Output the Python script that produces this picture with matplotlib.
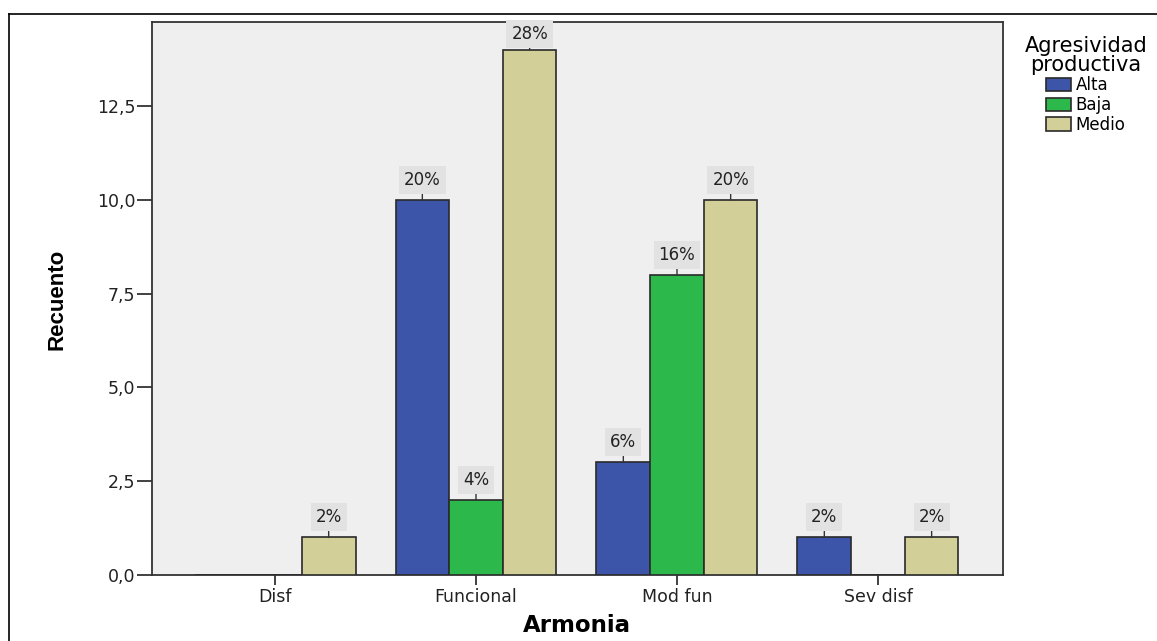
import matplotlib
matplotlib.use("Agg")
import matplotlib.pyplot as plt
from matplotlib.lines import Line2D
import numpy as np

plt.rcParams["font.family"] = ["DejaVu Sans"]

categories = ["Disf", "Funcional", "Mod fun", "Sev disf"]
series = ["Alta", "Baja", "Medio"]
alta = [0, 10, 3, 1]
baja = [0, 2, 8, 0]
medio = [1, 14, 10, 1]
pct_labels = {
    "Alta": ["", "20%", "6%", "2%"],
    "Baja": ["", "4%", "16%", ""],
    "Medio": ["2%", "28%", "20%", "2%"],
}
yticks = [0, 2.5, 5, 7.5, 10, 12.5]
ytick_labels = ["0,0", "2,5", "5,0", "7,5", "10,0", "12,5"]

colors = {"Alta": "#3d55a9", "Baja": "#2db84b", "Medio": "#d3cf98"}
values = {"Alta": alta, "Baja": baja, "Medio": medio}

W, H = 1157, 641
YMAX = 14.74
fig = plt.figure(figsize=(W / 100, H / 100), dpi=100)
ax = fig.add_axes([152 / W, 1 - 575 / H, (1003 - 152) / W, (575 - 22) / H])
ax.set_facecolor("#efefef")
px_per_unit = (575 - 22) / YMAX

x = np.arange(len(categories))
w = 0.267
for i, s in enumerate(series):
    xs = x + (i - 1) * w
    ax.bar(xs, values[s], width=w, color=colors[s], edgecolor="#2a2a2a",
           linewidth=1.2, label=s, zorder=3)
    for xi, v, lab in zip(xs, values[s], pct_labels[s]):
        if not lab:
            continue
        # label sits above the bar, pushed down when it would leave the plot
        room = (YMAX - v) * px_per_unit
        off = 8.0 if room > 40 else 4.8
        ax.annotate(lab, xy=(xi, v), xytext=(0, off), textcoords="offset points",
                    ha="center", va="bottom", fontsize=12, color="#222222",
                    bbox=dict(boxstyle="square,pad=0.3", fc="#e2e2e2", ec="none"),
                    arrowprops=dict(arrowstyle="-", color="#333333", lw=1.0,
                                    shrinkA=0, shrinkB=0),
                    zorder=4)

ax.set_xlim(-0.612, 3.622)
ax.set_ylim(0, YMAX)
ax.set_xticks(x)
ax.set_xticklabels(categories, fontsize=12.5, color="#222222")
ax.set_yticks(yticks)
ax.set_yticklabels(ytick_labels, fontsize=12.5, color="#222222")
ax.tick_params(axis="y", length=11, width=1.3, color="#333333", pad=1)
ax.tick_params(axis="x", length=7, width=1.3, color="#333333", pad=2)
for sp in ax.spines.values():
    sp.set_color("#333333")
    sp.set_linewidth(1.3)

fig.text(577 / W, 1 - 626 / H, "Armonia", fontsize=16.5, fontweight="bold",
         ha="center", va="center")
fig.text(57 / W, 1 - 299 / H, "Recuento", fontsize=16, fontweight="bold",
         rotation=90, ha="center", va="center",
         family=["Liberation Sans Narrow", "Liberation Sans"])

leg = fig.legend(loc="upper center", bbox_to_anchor=(1086 / W, 1 - 23 / H),
                 title="Agresividad\nproductiva", fontsize=12, title_fontsize=15,
                 frameon=False, handlelength=1.5, handleheight=0.85,
                 handletextpad=0.25, labelspacing=0.1, borderpad=0.3,
                 alignment="center")
leg.get_title().set_multialignment("center")
leg.get_title().set_linespacing(0.9)

# outer frame
fig.add_artist(Line2D([9 / W, 1.0], [1 - 14 / H, 1 - 14 / H],
                      transform=fig.transFigure, color="black", lw=1.2))
fig.add_artist(Line2D([9 / W, 9 / W], [0, 1 - 14 / H],
                      transform=fig.transFigure, color="black", lw=1.2))

fig.savefig("out.png", dpi=100)
